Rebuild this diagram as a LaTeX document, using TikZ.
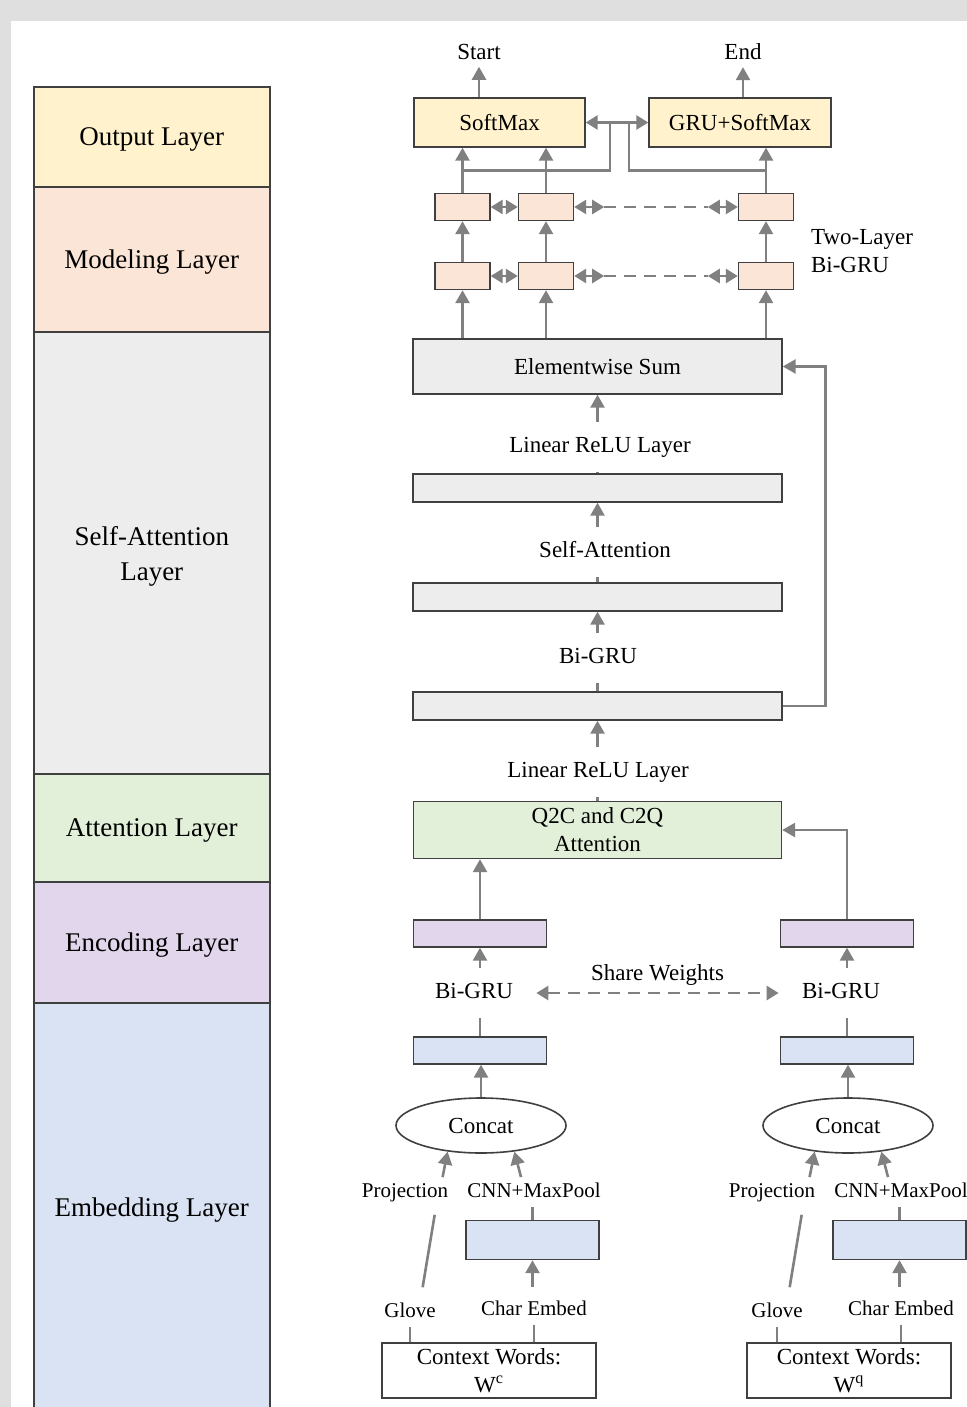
\documentclass[tikz,border=0pt]{standalone}
\usepackage{fontspec}
\setmainfont{Liberation Serif}
\usepackage{tikz}
\usetikzlibrary{arrows.meta,positioning,calc,shapes.geometric}
\definecolor{ink}{HTML}{404040}
\definecolor{wiregray}{HTML}{808080}
\definecolor{framegray}{HTML}{DFDFDF}
\definecolor{softyellow}{HTML}{FFF2CC}
\definecolor{softpeach}{HTML}{FBE5D6}
\definecolor{softgray}{HTML}{EDEDED}
\definecolor{softgreen}{HTML}{E2F0D9}
\definecolor{softpurple}{HTML}{E2D6EC}
\definecolor{softblue}{HTML}{DAE3F3}

\begin{document}
\begin{tikzpicture}[
  x=0.5pt, y=-0.5pt,
  font=\fontsize{11.5}{14}\selectfont,
  band/.style={draw=ink, line width=0.8pt, minimum width=118pt, inner sep=0pt, align=center, text depth=0pt, font=\fontsize{13.5}{17.5}\selectfont},
  box/.style={draw=ink, line width=0.7pt, inner sep=0pt, align=center},
  cell/.style={box, fill=softpeach, minimum width=27.5pt, minimum height=13.5pt},
  wide/.style={box, fill=softgray, minimum width=184.5pt, minimum height=14pt},
  bar/.style={box, minimum width=66.5pt, minimum height=13.5pt},
  catnode/.style={ellipse, draw=ink, line width=0.8pt, fill=white, minimum width=85pt, minimum height=27.5pt, inner sep=0pt},
  lbl/.style={inner xsep=2pt, inner ysep=7pt, text height=8pt, text depth=2.5pt},
  tag/.style={font=\fontsize{10.5}{12}\selectfont, inner sep=2.5pt, text height=7.5pt, text depth=2pt},
  wire/.style={draw=wiregray, line width=1.3pt},
  arrow/.style={wire, -{Triangle[length=6.5pt,width=7pt]}},
  biarrow/.style={wire, {Triangle[length=6pt,width=7pt]}-{Triangle[length=6pt,width=7pt]}},
  dashline/.style={wire, dash pattern=on 6pt off 4pt}
]
\useasboundingbox (0,0) rectangle (967,1407);
\clip (0,0) rectangle (967,1407);
\fill[framegray] (0,0) rectangle (967,1407);
\fill[white] (11,21) rectangle (967,1407);

% layer column
\node[band, fill=softyellow, minimum height=50pt] (lout) at (151.75,137) {Output Layer};
\node[band, fill=softpeach, minimum height=72.5pt] (lmod) at (151.75,259.5) {Modeling Layer};
\node[band, fill=softgray, minimum height=221pt] (lself) at (151.75,553) {Self-Attention\\Layer};
\node[band, fill=softgreen, minimum height=54pt] (latt) at (151.75,828) {Attention Layer};
\node[band, fill=softpurple, minimum height=60.5pt] (lenc) at (151.75,942.5) {Encoding Layer};
\node[band, fill=softblue, minimum height=204.5pt] (lemb) at (151.75,1207.5) {Embedding Layer};

% output layer
\node[box, fill=softyellow, minimum width=85.5pt, minimum height=24.5pt] (smax) at (499.5,122.5) {SoftMax};
\node[box, fill=softyellow, minimum width=91pt, minimum height=24.5pt] (gsmax) at (740,122.5) {GRU+SoftMax};
\node (start) at (479,52) {Start};
\node (end) at (743,52) {End};
\draw[arrow] (start |- smax.north) -- (start);
\draw[arrow] (end |- gsmax.north) -- (end);
\draw[biarrow] (smax) -- (gsmax);

% self-attention layer
\node[box, fill=softgray, minimum width=184.5pt, minimum height=27.5pt] (esum) at (597.5,366.5) {Elementwise Sum};
\node[wide] (sa3) at (597.5,488) {};
\node[wide] (sa2) at (597.5,597) {};
\node[wide] (sa1) at (597.5,706) {};
\node[lbl] (relu2) at (600,447) {Linear ReLU Layer};
\node[lbl] (selfatt) at (605,552) {Self-Attention};
\node[lbl] (bigru) at (598,658) {Bi-GRU};

\draw[wire] (sa3) -- (sa3.north |- relu2.south);
\draw[arrow] (sa3.north |- relu2.north) -- (esum.south);
\draw[wire] (sa2) -- (sa2.north |- selfatt.south);
\draw[arrow] (sa2.north |- selfatt.north) -- (sa3);
\draw[wire] (sa1) -- (sa1.north |- bigru.south);
\draw[arrow] (sa1.north |- bigru.north) -- (sa2);
\draw[arrow] (sa1.east) -- ++(43,0) |- (esum.east);

% modeling layer
\foreach \c/\x in {1/462.5, 2/546, 3/766} {
  \node[cell] (mt\c) at (\x,207) {};
  \node[cell] (mb\c) at (\x,276) {};
  \draw[arrow] (mb\c.south |- esum.north) -- (mb\c);
  \draw[arrow] (mb\c) -- (mt\c);
}
\draw[arrow] (mt1) -- (mt1 |- smax.south);
\draw[arrow] (mt2) -- (mt2 |- smax.south);
\draw[arrow] (mt3) -- (mt3 |- gsmax.south);
\foreach \r in {t,b} {
  \draw[biarrow] (m\r1) -- (m\r2);
  \draw[biarrow] (m\r2.east) -- ++(30,0) coordinate (da\r);
  \draw[biarrow] (m\r3.west) -- ++(-30,0) coordinate (db\r);
  \draw[dashline] (da\r) -- (db\r);
}
\coordinate (tapl) at ($(mt1.north)!0.5!(mt1.north |- smax.south)$);
\coordinate (tapr) at ($(mt3.north)!0.5!(mt3.north |- gsmax.south)$);
\coordinate (jl) at (610,122.5);
\coordinate (jr) at (629,122.5);
\draw[wire] (tapl) -| (jl);
\draw[wire] (tapr) -| (jr);
\node[anchor=west, align=left] (twolayer) at (804,251) {Two-Layer\\Bi-GRU};

% attention layer
\node[box, fill=softgreen, minimum width=184pt, minimum height=28.5pt] (q2c) at (597.5,830) {Q2C and C2Q\\Attention};
\node[lbl] (relu1) at (598,772) {Linear ReLU Layer};
\draw[wire] (q2c) -- (q2c.north |- relu1.south);
\draw[arrow] (q2c.north |- relu1.north) -- (sa1);

% encoding and embedding, context (c) and question (q)
\foreach \s/\dx/\cx/\cw in {c/0/489/107pt, q/367/849/102pt} {
  \node[bar, fill=softpurple] (enc\s) at (480+\dx,933.5) {};
  \node[lbl] (gru\s) at (474+\dx,993) {Bi-GRU};
  \node[bar, fill=softblue] (emb\s) at (480+\dx,1050.5) {};
  \node[catnode] (cat\s) at (481+\dx,1125.5) {Concat};
  \node[tag] (proj\s) at (405+\dx,1192) {Projection};
  \node[tag] (cnn\s) at (534+\dx,1192) {CNN+MaxPool};
  \node[bar, fill=softblue, minimum height=19.5pt] (conv\s) at (532.5+\dx,1240) {};
  \node[tag] (glove\s) at (410+\dx,1312) {Glove};
  \node[tag] (char\s) at (534+\dx,1310) {Char Embed};
  \node[box, fill=white, minimum width=\cw, minimum height=27.5pt] (ctx\s) at (\cx,1370.5) {Context Words:\\W\textsuperscript{\s}};

  \draw[arrow] (enc\s.south |- gru\s.north) -- (enc\s);
  \draw[wire] (emb\s) -- (emb\s.north |- gru\s.south);
  \draw[arrow] (cat\s.north) -- (cat\s.north |- emb\s.south);
  \draw[arrow] ([xshift=-5.5pt]proj\s.north east) -- (cat\s.218);
  \draw[arrow] ([xshift=-6.5pt]cnn\s.north) -- (cat\s.322);
  \draw[wire] (conv\s) -- (conv\s.north |- cnn\s.south);
  \draw[arrow, shorten <=4pt] (conv\s.south |- char\s.north) -- (conv\s);
  \draw[wire, shorten <=5pt, shorten >=4pt] ([xshift=5.5pt]glove\s.north) -- ([xshift=15.5pt]proj\s.south);
  \draw[wire] (ctx\s.north -| glove\s) -- (glove\s);
  \draw[wire] (ctx\s.north -| char\s) -- (char\s);
}
\draw[arrow] (encc) -- (encc |- q2c.south);
\draw[arrow] (encq) |- (q2c.east);
\draw[biarrow, dash pattern=on 6pt off 4pt, shorten <=9.5pt, shorten >=9.5pt] (gruc) -- node[above, inner sep=3pt] (share) {Share Weights} (gruq);

\end{tikzpicture}
\end{document}
